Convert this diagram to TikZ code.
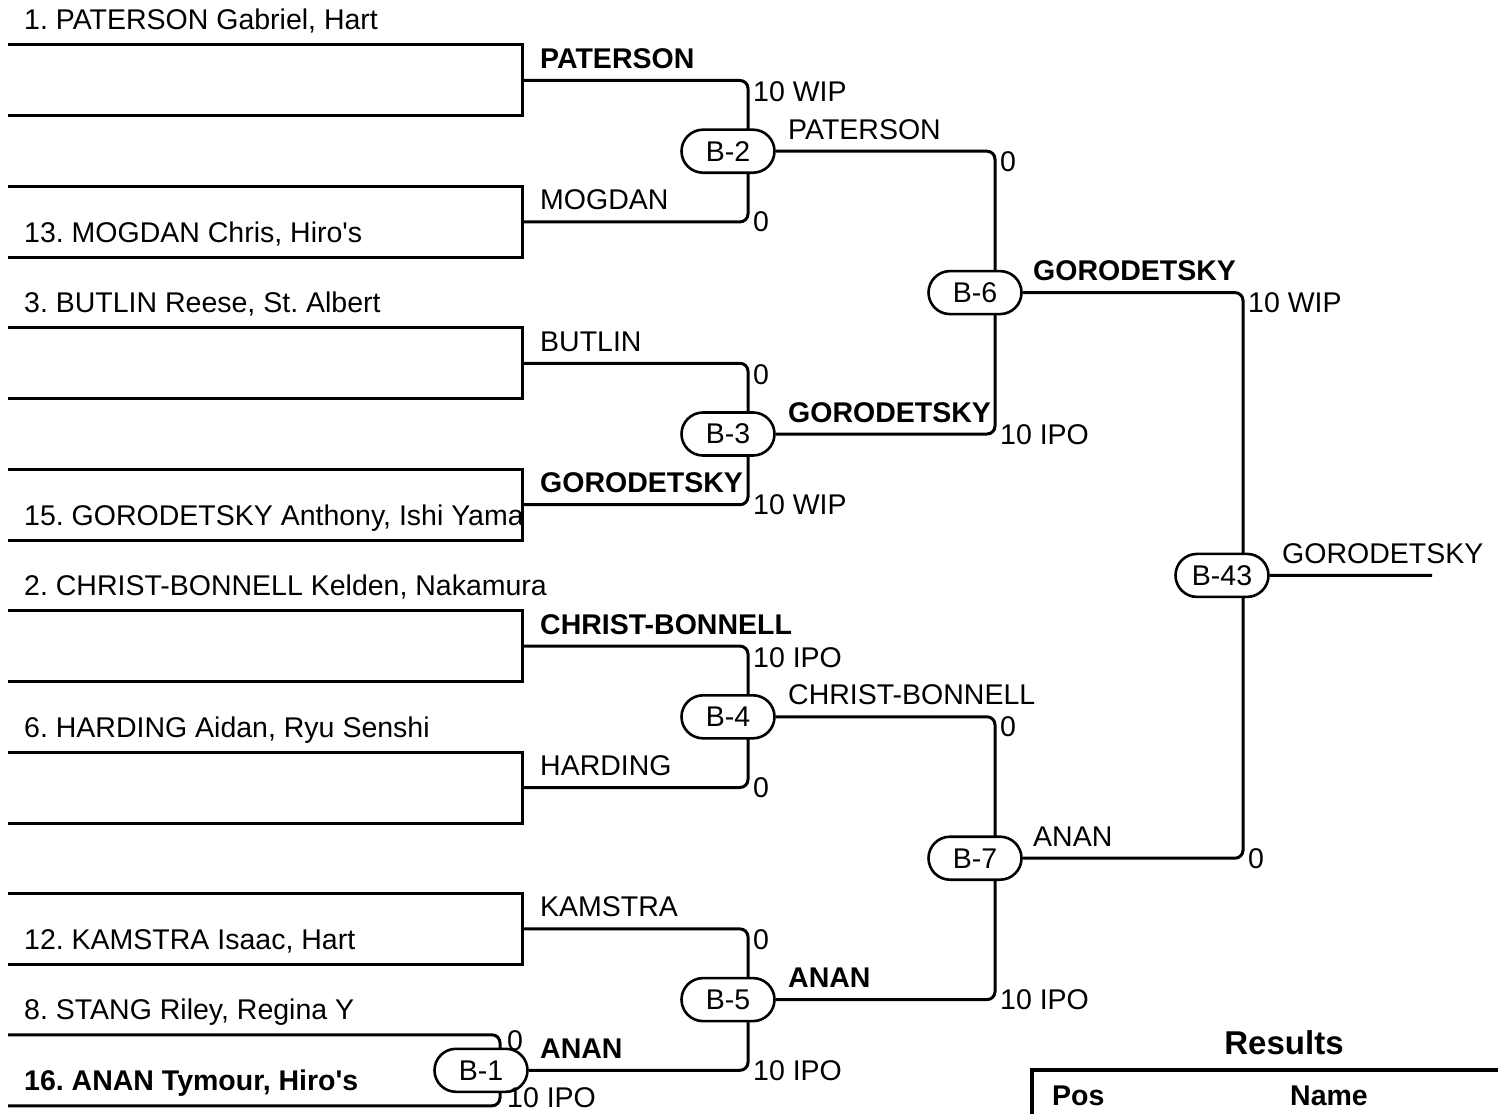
\documentclass[tikz,border=0pt]{standalone}
\usepackage{fontspec}
\setmainfont{Liberation Sans}[Ligatures=TeXOff]
\usetikzlibrary{shapes.misc,backgrounds}
\frenchspacing
\begin{document}
\begin{tikzpicture}[x=1pt,y=-1pt,
  every node/.style={font=\fontsize{28.5}{33}\selectfont, inner sep=0pt},
  ln/.style={line width=3pt},
  rc/.style={line width=3pt, rounded corners=8pt},
  pill/.style={draw, line width=2.6pt, fill=white, rounded rectangle, minimum width=93pt, minimum height=43pt, inner sep=0pt},
  lbl/.style={anchor=base west},
  blbl/.style={anchor=base west, font=\fontsize{28.5}{33}\selectfont\bfseries},
]
\useasboundingbox (0,0) rectangle (1498,1113);

% ---- match pills ----
\node[pill] (B2) at (728,151.2) {B-2};
\node[pill] (B3) at (728,434) {B-3};
\node[pill] (B4) at (728,716.8) {B-4};
\node[pill] (B5) at (728,999.6) {B-5};
\node[pill] (B1) at (481,1070.3) {B-1};
\node[pill] (B6) at (975,292.6) {B-6};
\node[pill] (B7) at (975,858.2) {B-7};
\node[pill] (B43) at (1222,575.4) {B-43};

% ---- coordinates ----
\foreach \k/\t in {0/45,1/186.4,2/327.8,3/469.2,4/610.6,5/752,6/893.4}{
  \pgfmathsetmacro\bb{\t+71}
  \pgfmathsetmacro\mm{\t+35.5}
  \coordinate (ta\k) at (8,\t);
  \coordinate (tb\k) at (522,\t);
  \coordinate (ba\k) at (8,\bb);
  \coordinate (bb\k) at (522,\bb);
  \coordinate (m\k) at (522,\mm);
}
\coordinate (ta7) at (8,1034.8);
\coordinate (ba7) at (8,1105.8);
\coordinate (v1) at (500,1070.3);
\coordinate (v2) at (748,151.2);
\coordinate (v3) at (748,434);
\coordinate (v4) at (748,716.8);
\coordinate (v5) at (748,999.6);
\coordinate (v6) at (995,292.6);
\coordinate (v7) at (995,858.2);
\coordinate (v43) at (1243,575.4);
\coordinate (fin) at (1432,575.4);

% ---- connectors ----
\begin{scope}[on background layer]
\foreach \k in {0,...,6}{
  \draw[ln] (ta\k) -- (tb\k) -- (bb\k) -- (ba\k);
}
\draw[rc] (ta7) -| (v1) |- (ba7);
\draw[rc] (m0) -| (v2) |- (m1);
\draw[rc] (m2) -| (v3) |- (m3);
\draw[rc] (m4) -| (v4) |- (m5);
\draw[rc] (m6) -| (v5) |- (B1);
\draw[rc] (B2) -| (v6) |- (B3);
\draw[rc] (B4) -| (v7) |- (B5);
\draw[rc] (B6) -| (v43) |- (B7);
\draw[ln] (B43) -- (fin);
\end{scope}

% ---- entrants ----
\node[lbl]  (n1)  at (24,30)     {1. PATERSON Gabriel, Hart};
\node[lbl]  (n13) at (24,242.4)  {13. MOGDAN Chris, Hiro's};
\node[lbl]  (n3)  at (24,312.8)  {3. BUTLIN Reese, St. Albert};
\node[lbl]  (n15) at (24,525.2)  {15. GORODETSKY Anthony, Ishi Yama};
\node[lbl]  (n2)  at (24,595.6)  {2. CHRIST-BONNELL Kelden, Nakamura};
\node[lbl]  (n6)  at (24,737)    {6. HARDING Aidan, Ryu Senshi};
\node[lbl]  (n12) at (24,949.4)  {12. KAMSTRA Isaac, Hart};
\node[lbl]  (n8)  at (24,1019.8) {8. STANG Riley, Regina Y};
\node[blbl] (n16) at (24,1090.8) {16. ANAN Tymour, Hiro's};

% ---- round 1 winners ----
\node[blbl] (w1) at (540,68.5)   {PATERSON};
\node[lbl]  (w2) at (540,209.9)  {MOGDAN};
\node[lbl]  (w3) at (540,351.3)  {BUTLIN};
\node[blbl] (w4) at (540,492.7)  {GORODETSKY};
\node[blbl] (w5) at (540,634.1)  {CHRIST-BONNELL};
\node[lbl]  (w6) at (540,775.5)  {HARDING};
\node[lbl]  (w7) at (540,916.9)  {KAMSTRA};
\node[blbl] (w8) at (540,1058.3) {ANAN};
% ---- round 2 winners ----
\node[lbl]  (x1) at (788,139.2)  {PATERSON};
\node[blbl] (x2) at (788,422)    {GORODETSKY};
\node[lbl]  (x3) at (788,704.8)  {CHRIST-BONNELL};
\node[blbl] (x4) at (788,987.6)  {ANAN};
% ---- round 3 winners ----
\node[blbl] (y1) at (1033,280.6) {GORODETSKY};
\node[lbl]  (y2) at (1033,846.2) {ANAN};
% ---- final ----
\node[lbl]  (z1) at (1282,563.4) {GORODETSKY};

% ---- scores ----
\node[lbl] (s1)  at (507,1050)   {0};
\node[lbl] (s2)  at (507,1107)   {10 IPO};
\node[lbl] (s3)  at (753,101.5)  {10 WIP};
\node[lbl] (s4)  at (753,231.9)  {0};
\node[lbl] (s5)  at (753,384.3)  {0};
\node[lbl] (s6)  at (753,514.7)  {10 WIP};
\node[lbl] (s7)  at (753,667.1)  {10 IPO};
\node[lbl] (s8)  at (753,797.5)  {0};
\node[lbl] (s9)  at (753,949.9)  {0};
\node[lbl] (s10) at (753,1080.3) {10 IPO};
\node[lbl] (s11) at (1000,171.2) {0};
\node[lbl] (s12) at (1000,444)   {10 IPO};
\node[lbl] (s13) at (1000,736.8) {0};
\node[lbl] (s14) at (1000,1009.6){10 IPO};
\node[lbl] (s15) at (1248,312.6) {10 WIP};
\node[lbl] (s16) at (1248,868.2) {0};

% ---- results ----
\node[anchor=base, font=\fontsize{33}{38}\selectfont\bfseries] (res) at (1284,1054) {Results};
\coordinate (tc) at (1032,1070);
\coordinate (tl) at (1032,1115);
\coordinate (tr) at (1500,1070);
\draw[line width=4.5pt] (tl) -- (tc) -- (tr);
\node[blbl] (pos) at (1052,1105) {Pos};
\node[blbl] (name) at (1290,1105) {Name};
\end{tikzpicture}
\end{document}
